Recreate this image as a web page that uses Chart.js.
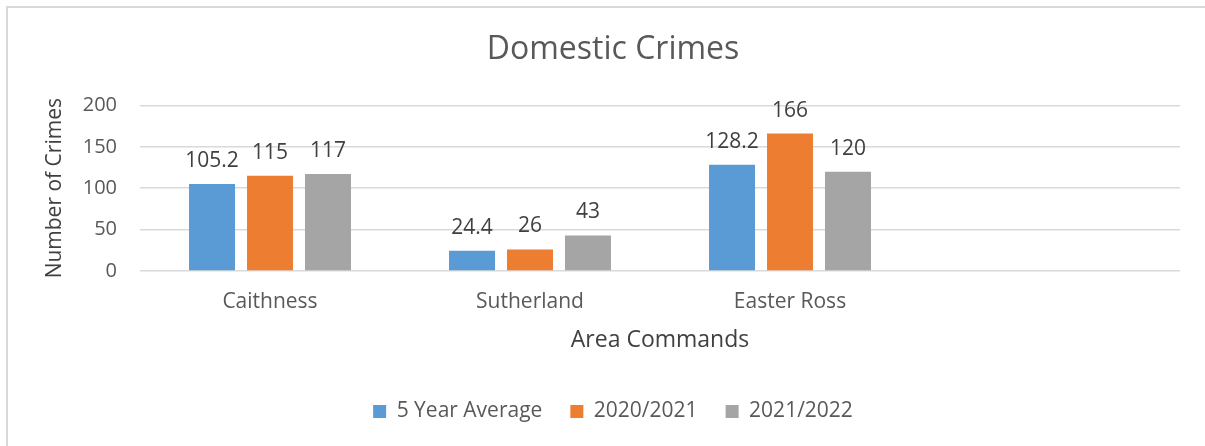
<!DOCTYPE html>
<html>
<head>
<meta charset="utf-8">
<script src="https://cdn.jsdelivr.net/npm/chart.js@4.4.1/dist/chart.umd.min.js"></script>
<style>
    html, body { margin: 0; padding: 0; background: #fff; }
    #wrap { position: relative; width: 1205px; height: 446px; overflow: hidden; }
    #frame { position: absolute; left: 6px; top: 6px; width: 1210px; height: 450px;
             border-top: 2px solid #d9d9d9; border-left: 2px solid #d9d9d9; box-sizing: border-box; }
    #chart { position: absolute; left: 0; top: 0; }
</style>
</head>
<body>
<div id="wrap">
    <div id="frame"></div>
    <canvas id="chart" width="1205" height="446"></canvas>
</div>
<script>
// --- DATA ---
const areas = ['Caithness', 'Sutherland', 'Easter Ross', ''];
const avg5Year = [105.2, 24.4, 128.2, null];
const year2021 = [115, 26, 166, null];
const year2122 = [117, 43, 120, null];
const yTicks = [0, 50, 100, 150, 200];

const FONT = '"Open Sans", "Noto Sans", sans-serif';

// value labels above each bar
const barValues = {
    id: 'barValues',
    afterDatasetsDraw(chart) {
        const ctx = chart.ctx;
        ctx.save();
        ctx.font = '21px ' + FONT;
        ctx.fillStyle = '#404040';
        ctx.textAlign = 'center';
        ctx.textBaseline = 'alphabetic';
        chart.data.datasets.forEach((ds, i) => {
            chart.getDatasetMeta(i).data.forEach((bar, j) => {
                const v = ds.data[j];
                if (v === null || v === undefined) return;
                ctx.fillText(String(v), bar.x, bar.y - 17);
            });
        });
        ctx.restore();
    }
};

const ctx = document.getElementById('chart').getContext('2d');
const myChart = new Chart(ctx, {
    type: 'bar',
    data: {
        labels: areas,
        datasets: [
            { label: '5 Year Average', data: avg5Year, backgroundColor: '#5B9BD5', borderWidth: 0 },
            { label: '2020/2021', data: year2021, backgroundColor: '#ED7D31', borderWidth: 0 },
            { label: '2021/2022', data: year2122, backgroundColor: '#A5A5A5', borderWidth: 0 }
        ]
    },
    options: {
        responsive: false,
        animation: false,
        devicePixelRatio: 1,
        categoryPercentage: 0.669,
        barPercentage: 0.793,
        layout: { padding: { left: 46, right: 25, top: 0, bottom: 14 } },
        plugins: {
            title: {
                display: true,
                text: 'Domestic Crimes',
                color: '#595959',
                font: { family: FONT, size: 32, weight: 'normal' },
                padding: { top: 31, bottom: 36 }
            },
            legend: {
                position: 'bottom',
                labels: {
                    color: '#595959',
                    font: { family: FONT, size: 21 },
                    boxWidth: 13,
                    boxHeight: 13,
                    padding: 28
                }
            },
            tooltip: { enabled: false }
        },
        scales: {
            x: {
                grid: { display: false, drawTicks: false },
                border: { display: false },
                ticks: { color: '#595959', font: { family: FONT, size: 21 }, padding: 18, maxRotation: 0 },
                title: {
                    display: true,
                    text: 'Area Commands',
                    color: '#404040',
                    font: { family: FONT, size: 23 },
                    padding: { top: 0, bottom: 19 }
                },
                afterFit(scale) { scale.height = 102; }
            },
            y: {
                min: 0,
                max: 200,
                grid: { color: '#d9d9d9', lineWidth: 1.5, drawTicks: false },
                border: { display: false },
                afterBuildTicks(scale) { scale.ticks = yTicks.map(v => ({ value: v })); },
                ticks: { color: '#595959', font: { family: FONT, size: 20 }, padding: 23 },
                title: {
                    display: true,
                    text: 'Number of Crimes',
                    color: '#404040',
                    font: { family: FONT, size: 21 },
                    padding: { top: -4, bottom: 0 }
                },
                afterFit(scale) { scale.width = 94; }
            }
        }
    },
    plugins: [barValues]
});
</script>
</body>
</html>
